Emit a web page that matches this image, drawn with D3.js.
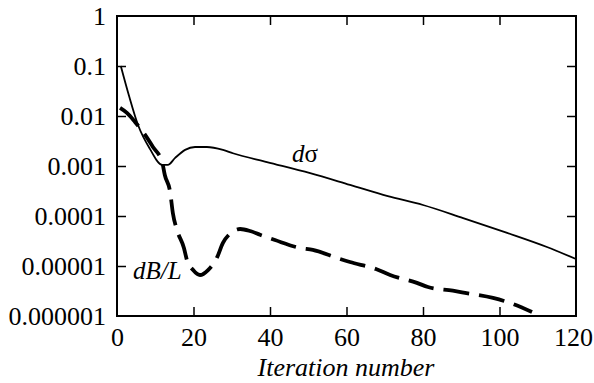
<!DOCTYPE html>
<html>

<head>
    <title></title>
    <meta charset="UTF-8">
    <script src="https://cdn.jsdelivr.net/npm/d3@7"></script>
    <style>
        body {
            margin: 0;
            background: #fff;
        }

        svg {
            display: block;
        }

        .tick line {
            stroke: #000;
            stroke-width: 1.5;
        }
    </style>
</head>

<body>
    <div id="wrap"></div>
    <script>
        // values
        var sigmaIter = [1, 3.1, 5.5, 8.6, 11.8, 13.3, 15.2, 17.8, 20.4, 23.5, 27.7, 30.3, 39.2, 50.5, 60.9, 70.8, 80, 90.5, 102, 112.4, 120];
        var sigmaVal = [0.1, 0.026, 0.0066, 0.0022, 0.00105, 0.00105, 0.00145, 0.0021, 0.0024, 0.0024, 0.0021, 0.0018, 0.0012,
            7.2e-4, 4.2e-4, 2.5e-4, 1.66e-4, 9.1e-5, 4.6e-5, 2.4e-5, 1.38e-5];

        var bIter = [0.8, 2.6, 4.7, 6.8, 9.4, 11.8, 12.5, 13.9, 14.6, 15.7, 17.5, 18.3, 19.9, 21.7, 23.8, 26.1, 27.7, 29.5,
            32.2, 34.8, 37.4, 41.3, 47.8, 51.2, 57.5, 60.9, 67.7, 71.4, 78.4, 81.3, 87.8, 91, 98.3, 101.2, 108.5];
        var bVal = [0.0145, 0.0115, 0.0076, 0.0048, 0.0024, 0.0012, 6.6e-4, 3.0e-4, 1.15e-4, 5.2e-5, 2.3e-5, 1.3e-5, 8.3e-6,
            6.6e-6, 8.3e-6, 1.45e-5, 2.9e-5, 4.4e-5, 5.5e-5, 5.0e-5, 4.2e-5, 3.3e-5, 2.3e-5, 2.1e-5, 1.45e-5, 1.2e-5,
            8.7e-6, 6.6e-6, 4.6e-6, 3.8e-6, 3.2e-6, 2.9e-6, 2.3e-6, 2.0e-6, 1.2e-6];

        var xTicks = [0, 20, 40, 60, 80, 100, 120];
        var yTicks = [1e-6, 1e-5, 1e-4, 1e-3, 1e-2, 1e-1, 1];
        var yTickLabels = ['0.000001', '0.00001', '0.0001', '0.001', '0.01', '0.1', '1'];

        var WIDTH = 594,
            HEIGHT = 383,
            LEFT = 117,
            RIGHT = 576,
            TOP = 16,
            BOTTOM = 316,
            TICK = 9,
            FONT = "'Liberation Serif'";

        var svg = d3.select('#wrap').append('svg').attr('width', WIDTH).attr('height', HEIGHT);

        var x = d3.scaleLinear().domain([0, 120]).range([LEFT, RIGHT]);
        var y = d3.scaleLog().domain([1e-6, 1]).range([BOTTOM, TOP]);

        //坐标轴 (ticks pointing inward)
        var gx = svg.append('g').attr('transform', 'translate(0,' + BOTTOM + ')')
            .call(d3.axisBottom(x).tickValues(xTicks).tickSizeInner(-TICK).tickSizeOuter(0).tickPadding(30).tickFormat(d3.format('d')));
        gx.selectAll('.tick text').attr('dy', 0)
            .attr('dx', function(d) { return d === 120 ? -3 : 0; }); // keep last label inside the window
        svg.append('g').attr('transform', 'translate(0,' + TOP + ')')
            .call(d3.axisTop(x).tickValues(xTicks).tickSizeInner(-TICK).tickSizeOuter(0).tickFormat(''));
        svg.append('g').attr('transform', 'translate(' + LEFT + ',0)')
            .call(d3.axisLeft(y).tickValues(yTicks).tickSizeInner(-TICK).tickSizeOuter(0).tickPadding(11)
                .tickFormat(function(d, i) { return yTickLabels[i]; }));
        svg.append('g').attr('transform', 'translate(' + RIGHT + ',0)')
            .call(d3.axisRight(y).tickValues(yTicks).tickSizeInner(-TICK).tickSizeOuter(0).tickFormat(''));
        svg.selectAll('.domain').remove();
        svg.selectAll('.tick text')
            .style('font-family', FONT).style('font-size', '26px').attr('fill', '#000');
        // drop the ticks that sit on the frame corners
        svg.selectAll('.tick line').filter(function(d) { return d === 0 || d === 120 || d === 1 || d === 1e-6; }).remove();

        // frame
        svg.append('rect')
            .attr('x', LEFT).attr('y', TOP)
            .attr('width', RIGHT - LEFT).attr('height', BOTTOM - TOP)
            .attr('fill', 'none').attr('stroke', '#000').attr('stroke-width', 2);

        var line = d3.line()
            .x(function(d) { return x(d[0]); })
            .y(function(d) { return y(d[1]); })
            .curve(d3.curveMonotoneX);

        // dσ
        svg.append('path')
            .datum(d3.zip(sigmaIter, sigmaVal))
            .attr('d', line)
            .attr('fill', 'none').attr('stroke', '#000').attr('stroke-width', 1.8);

        // dB/L
        svg.append('path')
            .datum(d3.zip(bIter, bVal))
            .attr('d', line)
            .attr('fill', 'none').attr('stroke', '#000').attr('stroke-width', 3.8)
            .attr('stroke-dasharray', '26,10');

        // labels
        svg.append('text')
            .attr('x', 292).attr('y', 162)
            .style('font-family', FONT).style('font-size', '25px')
            .html('<tspan font-style="italic">d</tspan>σ');
        svg.append('text')
            .attr('x', 133).attr('y', 279)
            .style('font-family', FONT).style('font-size', '25px').style('font-style', 'italic')
            .text('dB/L');
        svg.append('text')
            .attr('x', 346).attr('y', 376)
            .attr('text-anchor', 'middle')
            .style('font-family', FONT).style('font-size', '26px').style('font-style', 'italic')
            .text('Iteration number');
    </script>

</body>

</html>
